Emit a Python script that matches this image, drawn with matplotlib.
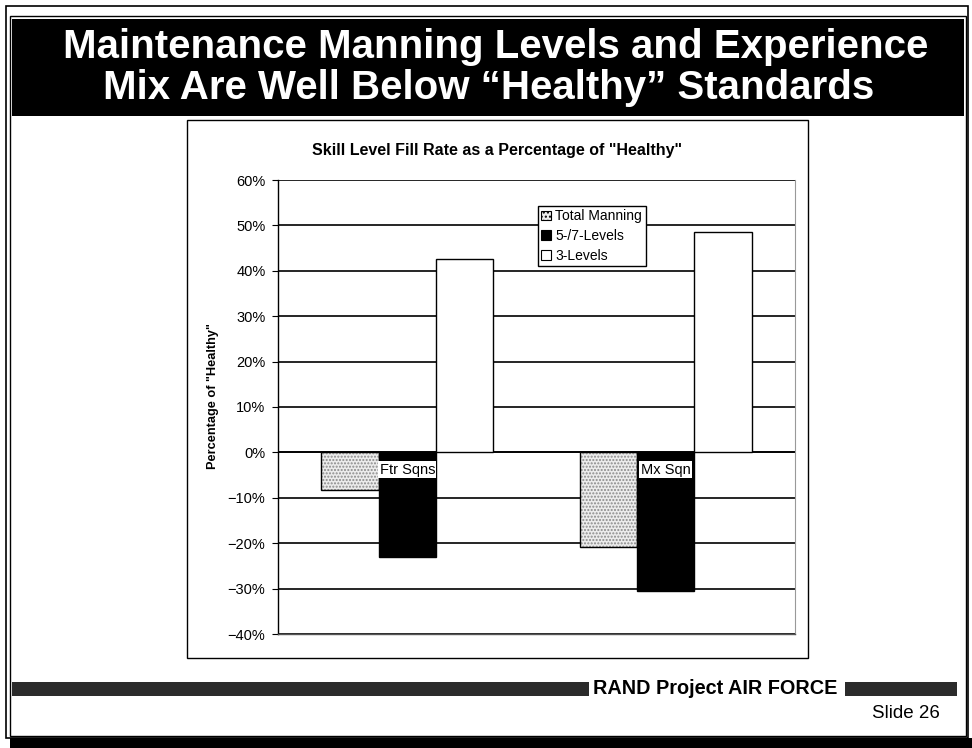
import matplotlib
matplotlib.use('Agg')
import matplotlib.pyplot as plt
from matplotlib.patches import Rectangle
from matplotlib.ticker import FuncFormatter
import numpy as np

plt.rcParams['font.family'] = ['Liberation Sans', 'DejaVu Sans']

# données
categories = ['Ftr Sqns', 'Mx Sqn']
total_manning = [-8.2, -20.8]
levels_5_7 = [-23.0, -30.6]
levels_3 = [42.7, 48.6]
series_names = ['Total Manning', '5-/7-Levels', '3-Levels']
yticks = [60, 50, 40, 30, 20, 10, 0, -10, -20, -30, -40]

W, H = 972, 748
fig = plt.figure(figsize=(W / 100, H / 100), dpi=100)


def fx(px):
    return px / W


def fy(py):
    return 1 - py / H


# cadre de la diapo
fig.add_artist(Rectangle((fx(6), fy(738)), fx(962), 732 / H, transform=fig.transFigure,
                         fill=False, edgecolor='black', lw=1.2))
fig.add_artist(Rectangle((fx(10), fy(736)), fx(956), 720 / H, transform=fig.transFigure,
                         fill=False, edgecolor='black', lw=1.0))
fig.add_artist(Rectangle((fx(10), 0), fx(962), 10 / H, transform=fig.transFigure,
                         facecolor='black', edgecolor='none'))

# bandeau titre
fig.add_artist(Rectangle((fx(12), fy(116)), fx(952), 97 / H, transform=fig.transFigure,
                         facecolor='black', edgecolor='none'))
title_font = ['Liberation Sans Narrow', 'Liberation Sans', 'DejaVu Sans']
fig.text(fx(496), fy(47), 'Maintenance Manning Levels and Experience', color='white',
         fontsize=29, fontweight='bold', ha='center', va='center', family=title_font)
fig.text(fx(489), fy(88), 'Mix Are Well Below \u201cHealthy\u201d Standards', color='white',
         fontsize=29, fontweight='bold', ha='center', va='center', family=title_font)

# cadre du graphique
fig.add_artist(Rectangle((fx(187), fy(658)), fx(621), 538 / H, transform=fig.transFigure,
                         fill=False, edgecolor='black', lw=1.0))
fig.text(fx(497), fy(150), 'Skill Level Fill Rate as a Percentage of "Healthy"',
         fontsize=11.5, fontweight='bold', ha='center', va='center')

ax = fig.add_axes([fx(278), fy(634), fx(517), (634 - 180) / H])
x = np.arange(len(categories))
bw = 0.222

# Total Manning : motif pointillé gris
ax.bar(x - bw, total_manning, bw, color='#ececec', hatch='.....', edgecolor='#8a8a8a',
       lw=0, zorder=3)
ax.bar(x - bw, total_manning, bw, fill=False, edgecolor='black', lw=1.0, zorder=4)
ax.bar(x, levels_5_7, bw, color='black', edgecolor='black', lw=1.0, zorder=3)
ax.bar(x + bw, levels_3, bw, color='white', edgecolor='black', lw=1.0, zorder=3)

ax.set_xlim(-0.5, 1.5)
ax.set_ylim(-40, 60)
ax.set_yticks(yticks)
ax.yaxis.set_major_formatter(FuncFormatter(lambda v, p: f"{v:.0f}%".replace('-', '\u2212')))
ax.tick_params(axis='y', labelsize=10.5, length=4, width=0.8, pad=5)
ax.set_xticks([])
ax.grid(axis='y', color='black', lw=1.2, zorder=1)
ax.set_axisbelow(True)
ax.spines['top'].set_visible(False)
ax.spines['right'].set_color('#999999')
ax.spines['right'].set_linewidth(0.8)
ax.spines['left'].set_linewidth(1.0)
ax.spines['bottom'].set_color('#555555')
ax.spines['bottom'].set_linewidth(1.0)
ax.axhline(0, color='black', lw=1.2, zorder=2)

for i, name in enumerate(categories):
    ax.text(x[i], -3.8, name, ha='center', va='center', fontsize=10.5, zorder=5,
            bbox=dict(facecolor='white', edgecolor='none', pad=1.0))

fig.text(fx(213), fy(396), 'Percentage of "Healthy"', rotation=90, fontsize=9.2,
         fontweight='bold', ha='center', va='center')

handles = [Rectangle((0, 0), 1, 1, facecolor='#ececec', hatch='....', edgecolor='black', lw=0.8),
           Rectangle((0, 0), 1, 1, facecolor='black', edgecolor='black', lw=0.8),
           Rectangle((0, 0), 1, 1, facecolor='white', edgecolor='black', lw=0.8)]
leg = ax.legend(handles, series_names, loc='upper left',
                bbox_to_anchor=(fx(538), fy(206)), bbox_transform=fig.transFigure,
                fontsize=10, fancybox=False, framealpha=1, edgecolor='black',
                handlelength=0.7, handleheight=0.7, handletextpad=0.3,
                labelspacing=0.4, borderpad=0.25, borderaxespad=0)
leg.get_frame().set_linewidth(1.0)
leg.set_zorder(6)

# bandeau bas
fig.add_artist(Rectangle((fx(12), fy(696)), fx(577), 14 / H, transform=fig.transFigure,
                         facecolor='#2b2b2b', edgecolor='none'))
fig.add_artist(Rectangle((fx(845), fy(696)), fx(112), 14 / H, transform=fig.transFigure,
                         facecolor='#2b2b2b', edgecolor='none'))
fig.text(fx(593), fy(689), 'RAND Project AIR FORCE', fontsize=14.3, fontweight='bold',
         ha='left', va='center')
fig.text(fx(940), fy(714), 'Slide 26', fontsize=13.5, ha='right', va='center')

plt.savefig('out.png', dpi=100)
